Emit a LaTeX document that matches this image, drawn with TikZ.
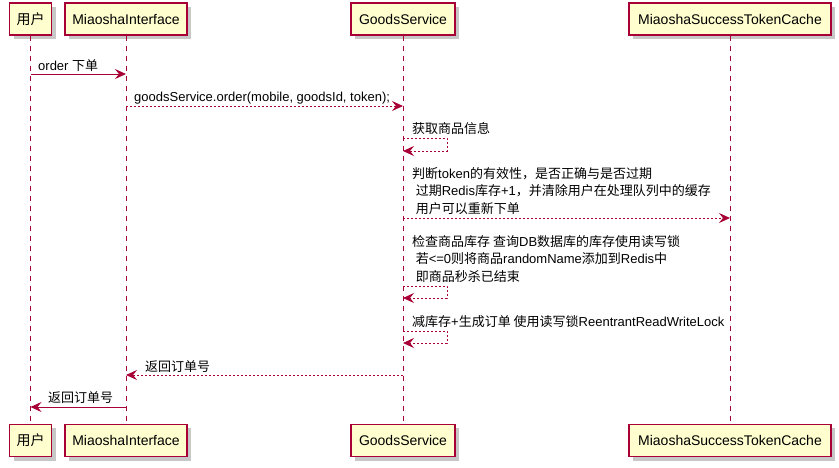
\documentclass[tikz,border=0pt]{standalone}
\usepackage{fontspec}
\setmainfont{Liberation Sans}
\newfontfamily\cjk{Noto Sans CJK SC}
\usetikzlibrary{arrows.meta}
\definecolor{pborder}{HTML}{A80036}
\definecolor{pfill}{HTML}{FEFECE}
\tikzset{
  part/.style={draw=pborder, fill=pfill, line width=1.2pt, minimum height=32pt, inner sep=0pt, font=\fontsize{14}{16}\selectfont},
  shadowbox/.style={fill=black!22, draw=none},
  lifeline/.style={draw=pborder, line width=0.9pt, dash pattern=on 5pt off 5pt},
  tip/.style={-{Stealth[length=11pt, width=10pt, inset=4pt, fill=pborder]}},
  msg/.style={draw=pborder, line width=0.9pt, tip},
  rmsg/.style={msg, dash pattern=on 2pt off 2pt},
  lbl/.style={anchor=base west, inner sep=0pt, font=\fontsize{13}{15}\selectfont}
}
\begin{document}
\begin{tikzpicture}[x=1pt,y=-1pt]
\useasboundingbox (0,0) rectangle (839,467);
% shadows
\foreach \cx/\w in {30.5/42, 126/122, 403/104, 730/202}{
  \fill[shadowbox] (\cx-\w/2+4,7) rectangle (\cx+\w/2+4,39);
  \fill[shadowbox] (\cx-\w/2+4,428) rectangle (\cx+\w/2+4,461);
}
% participants top
\node[part, minimum width=42pt] (uT) at (30.5,19) {\cjk 用户};
\node[part, minimum width=122pt] (mT) at (126,19) {MiaoshaInterface};
\node[part, minimum width=104pt] (gT) at (403,19) {GoodsService};
\node[part, minimum width=202pt] (cT) at (730,19) {MiaoshaSuccessTokenCache};
% participants bottom
\node[part, minimum width=42pt] (uB) at (30.5,440.5) {\cjk 用户};
\node[part, minimum width=122pt] (mB) at (126,440.5) {MiaoshaInterface};
\node[part, minimum width=104pt] (gB) at (403,440.5) {GoodsService};
\node[part, minimum width=202pt] (cB) at (730,440.5) {MiaoshaSuccessTokenCache};
% lifelines
\draw[lifeline] (uT.south) -- (uB.north);
\draw[lifeline] (mT.south) -- (mB.north);
\draw[lifeline] (gT.south) -- (gB.north);
\draw[lifeline] (cT.south) -- (cB.north);
% message 1
\node[lbl] (l1) at (38,70) {order {\cjk 下单}};
\draw[msg] (uT.south |- 0,74) -- (mT.south |- 0,74);
% message 2
\node[lbl] (l2) at (134,101.5) {goodsService.order(mobile, goodsId, token);};
\draw[rmsg] (mT.south |- 0,106) -- (gT.south |- 0,106);
% message 3 self
\node[lbl] (l3) at (412,133.5) {\cjk 获取商品信息};
\coordinate (s3a) at (447,138);
\coordinate (s3b) at (447,151);
\draw[rmsg] (gT.south |- 0,138) -- (s3a) -- (s3b) -- (gT.south |- 0,151);
% message 4
\node[lbl] (l4a) at (412,178) {{\cjk 判断}token{\cjk 的有效性，是否正确与是否过期}};
\node[lbl] (l4b) at (412,195.5) {\ {\cjk 过期}Redis{\cjk 库存}+1{\cjk ，并清除用户在处理队列中的缓存}};
\node[lbl] (l4c) at (412,213) {\ {\cjk 用户可以重新下单}};
\draw[rmsg] (gT.south |- 0,218) -- (cT.south |- 0,218);
% message 5 self
\node[lbl] (l5a) at (412,246) {{\cjk 检查商品库存 查询}DB{\cjk 数据库的库存使用读写锁}};
\node[lbl] (l5b) at (412,263.5) {\ {\cjk 若}<=0{\cjk 则将商品}randomName{\cjk 添加到}Redis{\cjk 中}};
\node[lbl] (l5c) at (412,281) {\ {\cjk 即商品秒杀已结束}};
\coordinate (s5a) at (447,286);
\coordinate (s5b) at (447,298);
\draw[rmsg] (gT.south |- 0,286) -- (s5a) -- (s5b) -- (gT.south |- 0,298);
% message 6 self
\node[lbl] (l6) at (412,326.5) {{\cjk 减库存}+{\cjk 生成订单 使用读写锁}ReentrantReadWriteLock};
\coordinate (s6a) at (447,331);
\coordinate (s6b) at (447,343);
\draw[rmsg] (gT.south |- 0,331) -- (s6a) -- (s6b) -- (gT.south |- 0,343);
% message 7
\node[lbl] (l7) at (145,371) {\cjk 返回订单号};
\draw[rmsg] (gT.south |- 0,375) -- (mT.south |- 0,375);
% message 8
\node[lbl] (l8) at (48,402.5) {\cjk 返回订单号};
\draw[msg] (mT.south |- 0,407) -- (uT.south |- 0,407);
\end{tikzpicture}
\end{document}
